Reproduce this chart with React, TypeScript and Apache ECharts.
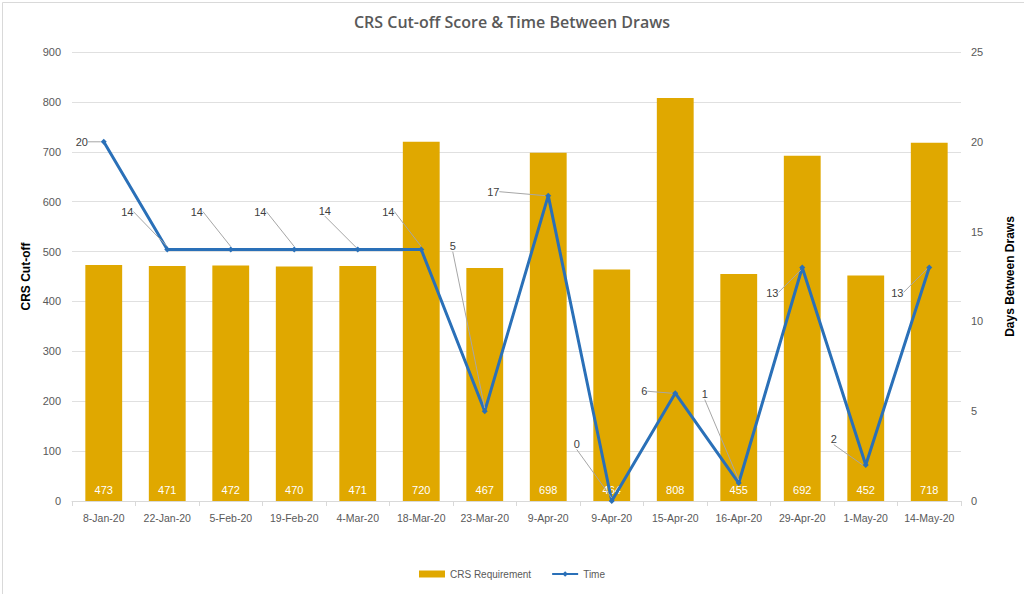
import React, { useEffect, useRef } from "react";
import * as echarts from "echarts";

const categories = [
  "8-Jan-20", "22-Jan-20", "5-Feb-20", "19-Feb-20", "4-Mar-20", "18-Mar-20", "23-Mar-20",
  "9-Apr-20", "9-Apr-20", "15-Apr-20", "16-Apr-20", "29-Apr-20", "1-May-20", "14-May-20",
];
const crsRequirement = [473, 471, 472, 470, 471, 720, 467, 698, 464, 808, 455, 692, 452, 718];
const timeDays = [20, 14, 14, 14, 14, 14, 5, 17, 0, 6, 1, 13, 2, 13];
const leftTicks = { min: 0, max: 900, interval: 100 };
const rightTicks = { min: 0, max: 25, interval: 5 };

// label offsets (px) from each Time point to its label centre
const labelOffsets: [number, number][] = [
  [-22, 0], [-40, -38], [-34, -38], [-34, -38], [-33, -39], [-33, -38], [-32, -165],
  [-55, -4], [-35, -57], [-31, -2], [-34, -89], [-30, 25], [-32, -26], [-32, 25],
];

const FONT = "'Liberation Sans', Arial, sans-serif";
const GRAY = "#595959";

export default function App() {
  const ref = useRef<HTMLDivElement>(null);
  useEffect(() => {
    if (!ref.current) return;
    const chart = echarts.init(ref.current, undefined, { renderer: "svg" });
    chart.setOption({
      animation: false,
      backgroundColor: "#ffffff",
      textStyle: { fontFamily: FONT },
      graphic: [
        {
          type: "rect",
          left: 0,
          top: 0,
          shape: { x: 0.5, y: 0.5, width: 1023, height: 593 },
          style: { fill: "none", stroke: "#d9d9d9", lineWidth: 1 },
          silent: true,
        },
      ],
      title: {
        text: "CRS Cut-off Score & Time Between Draws",
        left: "center",
        top: 9,
        textStyle: { fontFamily: "'Open Sans', sans-serif", fontSize: 16, fontWeight: 600, color: GRAY },
      },
      legend: {
        bottom: 10,
        left: "center",
        itemGap: 20,
        itemWidth: 26,
        itemHeight: 7,
        textStyle: { fontSize: 10, color: GRAY, fontFamily: FONT },
        data: [
          { name: "CRS Requirement", icon: "rect" },
          { name: "Time" },
        ],
      },
      grid: { left: 72, right: 56, top: 52, bottom: 93, containLabel: false },
      xAxis: {
        type: "category",
        data: categories,
        axisLine: { lineStyle: { color: "#d9d9d9" } },
        axisTick: { show: true, alignWithLabel: false, length: 5, lineStyle: { color: "#d9d9d9" } },
        axisLabel: { color: GRAY, fontSize: 10.5, margin: 11, interval: 0 },
      },
      yAxis: [
        {
          type: "value",
          ...leftTicks,
          name: "CRS Cut-off",
          nameLocation: "middle",
          nameRotate: 90,
          nameGap: 40,
          nameTextStyle: { fontWeight: "bold", fontSize: 12, color: "#000" },
          axisLabel: { color: GRAY, fontSize: 11, margin: 11 },
          splitLine: { lineStyle: { color: "#e0e0e0" } },
          axisLine: { show: false },
          axisTick: { show: false },
        },
        {
          type: "value",
          ...rightTicks,
          name: "Days Between Draws",
          nameLocation: "middle",
          nameRotate: 90,
          nameGap: 43,
          nameTextStyle: { fontWeight: "bold", fontSize: 12, color: "#000" },
          axisLabel: { color: GRAY, fontSize: 11, margin: 10 },
          splitLine: { show: false },
          axisLine: { show: false },
          axisTick: { show: false },
        },
      ],
      series: [
        {
          name: "CRS Requirement",
          type: "bar",
          data: crsRequirement,
          barWidth: "58%",
          itemStyle: { color: "#E0A800" },
          label: {
            show: true,
            position: "insideBottom",
            distance: 6,
            color: "#ffffff",
            fontSize: 11,
          },
        },
        {
          name: "Time",
          type: "line",
          yAxisIndex: 1,
          data: timeDays,
          symbol: "diamond",
          symbolSize: 6,
          itemStyle: { color: "#2A70B8" },
          lineStyle: { color: "#2A70B8", width: 3 },
          label: {
            show: true,
            position: "inside",
            color: "#404040",
            fontSize: 11,
          },
          labelLine: { show: true, lineStyle: { color: "#a6a6a6", width: 1 } },
          labelLayout: (params: any) => {
            const o = labelOffsets[params.dataIndex] || [0, 0];
            return { dx: o[0], dy: o[1] };
          },
          z: 3,
        },
      ],
    });
    return () => chart.dispose();
  }, []);
  return (
    <div
      ref={ref}
      style={{ position: "fixed", left: 0, top: 0, width: 1024, height: 594 }}
    />
  );
}
